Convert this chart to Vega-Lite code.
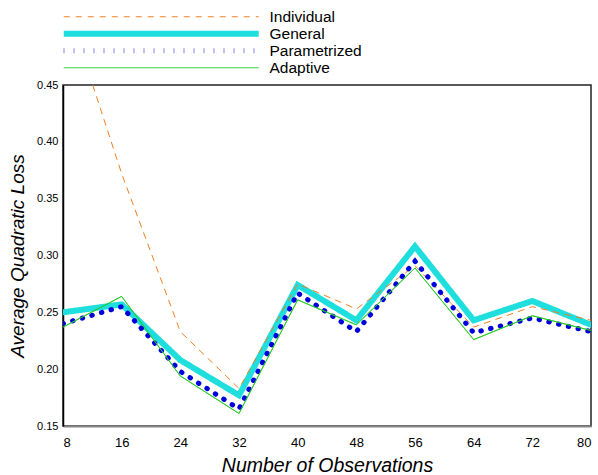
{
  "$schema": "https://vega.github.io/schema/vega-lite/v6.json",
  "autosize": {"type": "none"},
  "padding": {"left": 63, "top": 85, "right": 7, "bottom": 49},
  "width": 528,
  "height": 341,
  "config": {
    "font": "Liberation Sans",
    "view": {"stroke": "#222222", "strokeWidth": 1.5}
  },
  "data": {
    "values": [
      {"series": "General", "n": 8, "loss": 0.250},
      {"series": "General", "n": 16, "loss": 0.257},
      {"series": "General", "n": 24, "loss": 0.208},
      {"series": "General", "n": 32, "loss": 0.177},
      {"series": "General", "n": 40, "loss": 0.274},
      {"series": "General", "n": 48, "loss": 0.243},
      {"series": "General", "n": 56, "loss": 0.308},
      {"series": "General", "n": 64, "loss": 0.243},
      {"series": "General", "n": 72, "loss": 0.260},
      {"series": "General", "n": 80, "loss": 0.239},
      {"series": "Individual", "n": 8, "loss": 0.53},
      {"series": "Individual", "n": 16, "loss": 0.372},
      {"series": "Individual", "n": 24, "loss": 0.233},
      {"series": "Individual", "n": 32, "loss": 0.183},
      {"series": "Individual", "n": 40, "loss": 0.275},
      {"series": "Individual", "n": 48, "loss": 0.253},
      {"series": "Individual", "n": 56, "loss": 0.291},
      {"series": "Individual", "n": 64, "loss": 0.237},
      {"series": "Individual", "n": 72, "loss": 0.255},
      {"series": "Individual", "n": 80, "loss": 0.243},
      {"series": "Parametrized", "n": 8, "loss": 0.240},
      {"series": "Parametrized", "n": 16, "loss": 0.255},
      {"series": "Parametrized", "n": 24, "loss": 0.198},
      {"series": "Parametrized", "n": 32, "loss": 0.165},
      {"series": "Parametrized", "n": 40, "loss": 0.267},
      {"series": "Parametrized", "n": 48, "loss": 0.233},
      {"series": "Parametrized", "n": 56, "loss": 0.295},
      {"series": "Parametrized", "n": 64, "loss": 0.232},
      {"series": "Parametrized", "n": 72, "loss": 0.245},
      {"series": "Parametrized", "n": 80, "loss": 0.233},
      {"series": "Adaptive", "n": 8, "loss": 0.237},
      {"series": "Adaptive", "n": 16, "loss": 0.264},
      {"series": "Adaptive", "n": 24, "loss": 0.194},
      {"series": "Adaptive", "n": 32, "loss": 0.161},
      {"series": "Adaptive", "n": 40, "loss": 0.261},
      {"series": "Adaptive", "n": 48, "loss": 0.239},
      {"series": "Adaptive", "n": 56, "loss": 0.289},
      {"series": "Adaptive", "n": 64, "loss": 0.226},
      {"series": "Adaptive", "n": 72, "loss": 0.247},
      {"series": "Adaptive", "n": 80, "loss": 0.234}
    ]
  },
  "mark": {"type": "line", "clip": true, "strokeCap": "round", "strokeJoin": "miter"},
  "encoding": {
    "x": {
      "field": "n", "type": "quantitative",
      "scale": {"domain": [8, 80], "nice": false, "zero": false},
      "axis": {
        "values": [8, 16, 24, 32, 40, 48, 56, 64, 72, 80],
        "title": "Number of Observations",
        "titleFont": "Liberation Sans", "titleFontStyle": "italic", "titleFontWeight": "normal",
        "titleFontSize": 19.5, "titleColor": "#000", "titlePadding": 7,
        "labelFontSize": 13, "labelColor": "#000", "labelPadding": 10,
        "ticks": false, "grid": false,
        "domainColor": "#888888", "domainWidth": 2
      }
    },
    "y": {
      "field": "loss", "type": "quantitative",
      "scale": {"domain": [0.15, 0.45], "nice": false, "zero": false},
      "axis": {
        "values": [0.15, 0.2, 0.25, 0.3, 0.35, 0.4, 0.45],
        "format": ".2f",
        "title": "Average Quadratic Loss",
        "titleFont": "Liberation Sans", "titleFontStyle": "italic", "titleFontWeight": "normal",
        "titleFontSize": 19, "titleColor": "#000", "titlePadding": 9,
        "labelFontSize": 11, "labelColor": "#000", "labelPadding": 5,
        "ticks": false, "grid": false,
        "domainColor": "#000000", "domainWidth": 1.5
      }
    },
    "color": {
      "field": "series", "type": "nominal",
      "scale": {
        "domain": ["Individual", "General", "Parametrized", "Adaptive"],
        "range": ["#ee7f22", "#1fdede", "#0000dd", "#22cc22"]
      },
      "legend": {
        "title": null,
        "orient": "none",
        "legendX": -5,
        "legendY": -76,
        "symbolType": "M-1,0H96.5",
        "symbolSize": 16,
        "labelOffset": 196,
        "labelFontSize": 15.5,
        "labelColor": "#000",
        "labelFont": "Liberation Sans",
        "rowPadding": 0,
        "clipHeight": 15.5,
        "gridAlign": "all",
        "encode": {
          "symbols": {
            "update": {
              "strokeWidth": {"signal": "datum.value === 'General' ? 6 : datum.value === 'Parametrized' ? 5 : 1"},
              "strokeDash": {"signal": "datum.value === 'Individual' ? [6, 6] : datum.value === 'Parametrized' ? [1.6, 9] : [1, 0]"}
            }
          }
        }
      }
    },
    "strokeDash": {
      "field": "series", "type": "nominal",
      "scale": {
        "domain": ["Individual", "General", "Parametrized", "Adaptive"],
        "range": [[6, 6], [1, 0], [0.5, 9.5], [1, 0]]
      }
    },
    "strokeWidth": {
      "condition": [
        {"test": "datum.series === 'General'", "value": 6},
        {"test": "datum.series === 'Parametrized'", "value": 5}
      ],
      "value": 1
    },
    "order": {"field": "n"}
  }
}
